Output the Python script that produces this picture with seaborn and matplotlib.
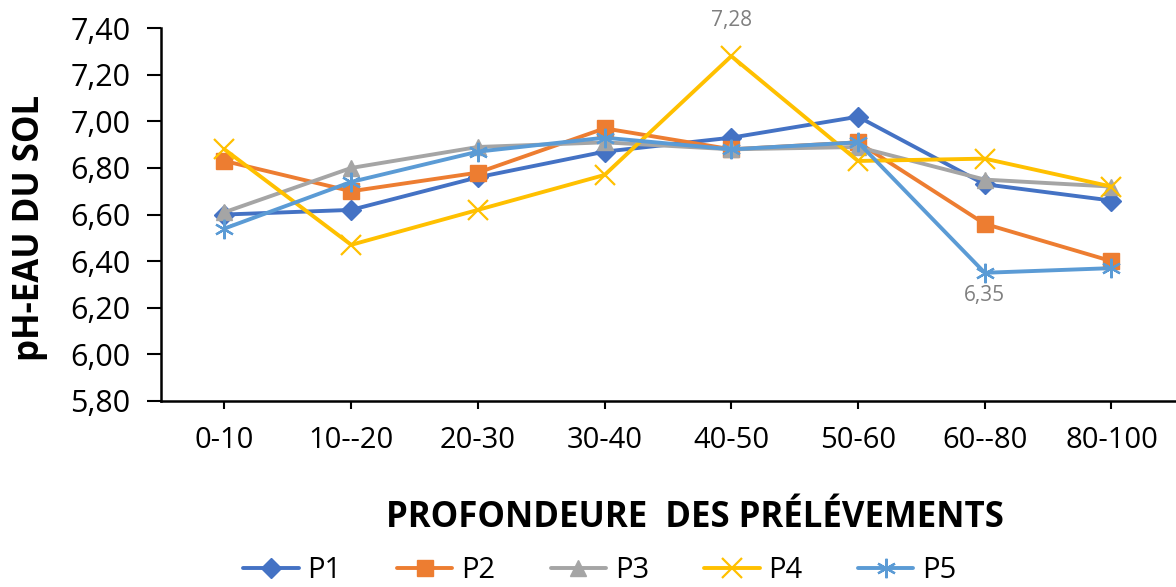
import matplotlib
matplotlib.use("Agg")
import matplotlib.pyplot as plt
import seaborn as sns
import pandas as pd

# Sampling depths (cm) and pH-water per profile
depths = ["0-10", "10--20", "20-30", "30-40", "40-50", "50-60", "60--80", "80-100"]
p1 = [6.60, 6.62, 6.76, 6.87, 6.93, 7.02, 6.73, 6.66]
p2 = [6.83, 6.70, 6.78, 6.97, 6.88, 6.91, 6.56, 6.40]
p3 = [6.61, 6.80, 6.89, 6.91, 6.88, 6.89, 6.75, 6.72]
p4 = [6.88, 6.47, 6.62, 6.77, 7.28, 6.83, 6.84, 6.72]
p5 = [6.54, 6.74, 6.87, 6.93, 6.88, 6.91, 6.35, 6.37]
profiles = ["P1", "P2", "P3", "P4", "P5"]
yticks = [5.80, 6.00, 6.20, 6.40, 6.60, 6.80, 7.00, 7.20, 7.40]

series = dict(zip(profiles, [p1, p2, p3, p4, p5]))
df = pd.concat(
    [pd.DataFrame({"depth": depths, "ph": vals, "profil": name}) for name, vals in series.items()],
    ignore_index=True,
)

colors = {"P1": "#4472C4", "P2": "#ED7D31", "P3": "#A5A5A5", "P4": "#FFC000", "P5": "#5B9BD5"}
markers = {"P1": "D", "P2": "s", "P3": "^", "P4": "x", "P5": (6, 2, 0)}
msizes = {"P1": 10, "P2": 12, "P3": 11, "P4": 14, "P5": 14}

sns.set_style("white")
plt.rcParams["font.family"] = ["Open Sans", "DejaVu Sans"]
plt.rcParams["text.color"] = "black"
plt.rcParams["axes.labelcolor"] = "black"
plt.rcParams["xtick.color"] = "black"
plt.rcParams["ytick.color"] = "black"

fig = plt.figure(figsize=(11.76, 5.87), dpi=100)
ax = fig.add_axes([0.137, 0.317, 0.862, 0.635])

for name in profiles:
    sub = df[df["profil"] == name]
    mk = markers[name]
    filled = name not in ("P4", "P5")
    sns.lineplot(
        data=sub, x="depth", y="ph", ax=ax, sort=False,
        color=colors[name], linewidth=2.8, label=name,
        marker=mk, markersize=msizes[name],
        markeredgecolor=colors[name],
        markerfacecolor=colors[name] if filled else "none",
        markeredgewidth=1.0 if filled else 1.6,
    )

# Value labels on the extreme points
ax.annotate(f"{p4[4]:.2f}".replace(".", ","), xy=(depths[4], p4[4]),
            xytext=(0, 18), textcoords="offset points", ha="center", va="bottom",
            fontsize=15, color="#7F7F7F")
ax.annotate(f"{p5[6]:.2f}".replace(".", ","), xy=(depths[6], p5[6]),
            xytext=(0, -9), textcoords="offset points", ha="center", va="top",
            fontsize=15, color="#7F7F7F")

ax.set_ylim(5.80, 7.40)
ax.set_xlim(-0.5, 7.5)
ax.set_yticks(yticks)
ax.set_yticklabels([f"{v:.2f}".replace(".", ",") for v in yticks], fontsize=22)
ax.tick_params(axis="x", labelsize=21, length=6, width=1.5, direction="out", pad=12)
ax.tick_params(axis="y", length=10, width=1.5, direction="out", pad=12)
ax.tick_params(left=True, bottom=True)

for side in ("top", "right"):
    ax.spines[side].set_visible(False)
for side in ("left", "bottom"):
    ax.spines[side].set_color("black")
    ax.spines[side].set_linewidth(1.8)

ax.set_xlabel("PROFONDEURE  DES PRÉLÉVEMENTS", fontsize=25, fontweight="bold")
ax.set_ylabel("pH-EAU DU SOL", fontsize=25, fontweight="bold")
ax.xaxis.set_label_coords(0.527, -0.265)
ax.yaxis.set_label_coords(-0.112, 0.464)
ax.grid(False)

ax.get_legend().remove()
handles, labels = ax.get_legend_handles_labels()
fig.legend(handles, labels, loc="center", bbox_to_anchor=(0.51, 0.028), ncol=5, frameon=False,
           fontsize=21, handlelength=1.9, columnspacing=1.9, handletextpad=0.3,
           borderaxespad=0, borderpad=0)

fig.savefig("out.png", dpi=100)
